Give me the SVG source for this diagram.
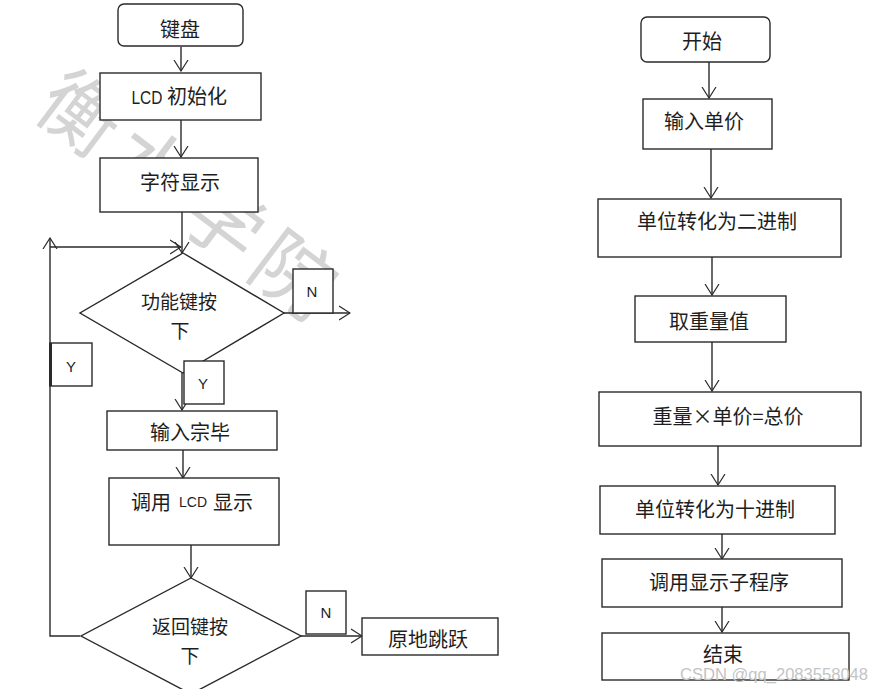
<svg xmlns="http://www.w3.org/2000/svg" width="872" height="689" viewBox="0 0 872 689">
<style>
.box{fill:#fff;stroke:#2a2a2a;stroke-width:1.4}
.ln{fill:none;stroke:#2a2a2a;stroke-width:1.4}
.t{font-family:"Noto Sans CJK SC","Liberation Sans",sans-serif;font-size:20px;fill:#1e1e1e;text-anchor:middle}
.s{font-family:"Liberation Sans","Noto Sans CJK SC",sans-serif;font-size:15px;fill:#1e1e1e;text-anchor:middle}
.wm{font-family:"Noto Sans CJK SC",sans-serif;font-size:80px;fill:#d4d4d4}
</style>
<defs>
<marker id="a" viewBox="0 -8 12 16" refX="11" refY="0" markerWidth="12" markerHeight="16" markerUnits="userSpaceOnUse" orient="auto">
<path d="M0,-7 L11,0 L0,7" fill="none" stroke="#2a2a2a" stroke-width="1.2"/>
</marker>
</defs>
<rect width="872" height="689" fill="#fff"/>
<text class="wm" transform="translate(31,113) rotate(37)" letter-spacing="9">衡水学院</text>

<g id="connectors">
<path class="ln" d="M181,47 L181,71" marker-end="url(#a)"/>
<path class="ln" d="M181,120 L181,157" marker-end="url(#a)"/>
<path class="ln" d="M182,212 L182,253" marker-end="url(#a)"/>
<path class="ln" d="M80,636 L50,636 L50,238" marker-end="url(#a)"/>
<path class="ln" d="M50,247 L181,247" marker-end="url(#a)"/>
<path class="ln" d="M284,313 L350,313" marker-end="url(#a)"/>
<path class="ln" d="M182,373 L182,410" marker-end="url(#a)"/>
<path class="ln" d="M183,450 L183,478" marker-end="url(#a)"/>
<path class="ln" d="M191,545 L191,578" marker-end="url(#a)"/>
<path class="ln" d="M301,636 L362,636" marker-end="url(#a)"/>
<path class="ln" d="M709,62 L709,98" marker-end="url(#a)"/>
<path class="ln" d="M711,149 L711,198" marker-end="url(#a)"/>
<path class="ln" d="M712,257 L712,295" marker-end="url(#a)"/>
<path class="ln" d="M712,342 L712,391" marker-end="url(#a)"/>
<path class="ln" d="M718,446 L718,485" marker-end="url(#a)"/>
<path class="ln" d="M722,534 L722,559" marker-end="url(#a)"/>
<path class="ln" d="M722,607 L722,632" marker-end="url(#a)"/>
</g>

<g id="n-keyboard"><rect class="box" x="118" y="4" width="125" height="42" rx="6"/><text class="t" x="180" y="37">键盘</text></g>
<g id="n-lcdinit"><rect class="box" x="100" y="73" width="161" height="47"/><text class="s" x="147" y="104" style="font-size:19px" textLength="31" lengthAdjust="spacingAndGlyphs">LCD</text><text class="t" x="197" y="104">初始化</text></g>
<g id="n-chardisp"><rect class="box" x="100" y="158" width="158" height="54"/><text class="t" x="180" y="190">字符显示</text></g>
<g id="n-funckey"><polygon class="box" points="183,253 284,313 183,373 80,313"/><text class="t" x="179" y="309" style="font-size:19px">功能键按</text><text class="t" x="180" y="338" style="font-size:19px">下</text></g>
<g id="n-y1"><rect class="box" x="50" y="343" width="42" height="43"/><rect x="49" y="343" width="3" height="43" fill="#2a2a2a"/><text class="s" x="71" y="372">Y</text></g>
<g id="n-n1"><rect class="box" x="293" y="269" width="40" height="44"/><text class="s" x="312" y="297">N</text></g>
<g id="n-y2"><rect class="box" x="184" y="361" width="40" height="43"/><text class="s" x="203" y="389">Y</text></g>
<g id="n-inputdone"><rect class="box" x="107" y="411" width="170" height="39"/><text class="t" x="190" y="440">输入宗毕</text></g>
<g id="n-calllcd"><rect class="box" x="109" y="478" width="170" height="67"/><text class="t" x="151" y="510">调用</text><text class="s" x="193" y="507" style="font-size:14px">LCD</text><text class="t" x="233" y="510">显示</text></g>
<g id="n-backkey"><polygon class="box" points="191,578 301,636 191,694 81,636"/><text class="t" x="190" y="634" style="font-size:19px">返回键按</text><text class="t" x="190" y="663" style="font-size:19px">下</text></g>
<g id="n-n2"><rect class="box" x="306" y="591" width="40" height="43"/><text class="s" x="326" y="618">N</text></g>
<g id="n-jump"><rect class="box" x="362" y="618" width="136" height="37"/><text class="t" x="428" y="647">原地跳跃</text></g>

<g id="n-start"><rect class="box" x="641" y="17" width="129" height="45" rx="6"/><text class="t" x="702" y="49">开始</text></g>
<g id="n-price"><rect class="box" x="643" y="99" width="129" height="50"/><text class="t" x="704" y="129">输入单价</text></g>
<g id="n-tobin"><rect class="box" x="598" y="199" width="243" height="58"/><text class="t" x="717" y="229">单位转化为二进制</text></g>
<g id="n-weight"><rect class="box" x="635" y="296" width="151" height="46"/><text class="t" x="709" y="329">取重量值</text></g>
<g id="n-total"><rect class="box" x="599" y="392" width="262" height="54"/><text class="t" x="728" y="424">重量×单价=总价</text></g>
<g id="n-todec"><rect class="box" x="600" y="486" width="235" height="48"/><text class="t" x="715" y="517">单位转化为十进制</text></g>
<g id="n-calldisp"><rect class="box" x="602" y="559" width="240" height="48"/><text class="t" x="719" y="590">调用显示子程序</text></g>
<g id="n-end"><rect class="box" x="602" y="633" width="247" height="47"/><text class="t" x="723" y="662">结束</text></g>
<text x="680" y="680" font-family="Liberation Sans,sans-serif" font-size="16" fill="#c4c4c4" textLength="188" lengthAdjust="spacingAndGlyphs">CSDN @qq_2083558048</text>
</svg>
